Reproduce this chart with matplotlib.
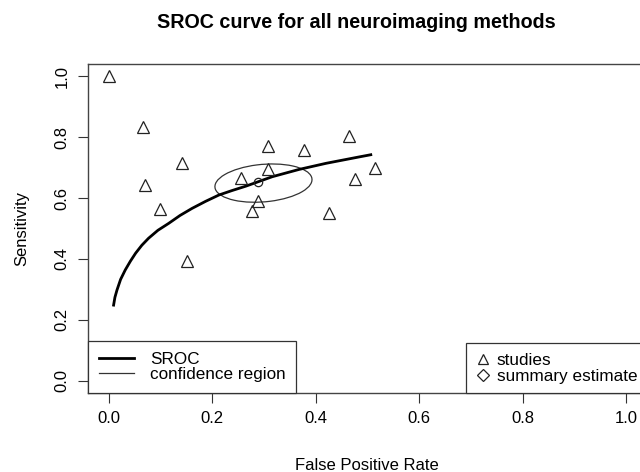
import matplotlib
matplotlib.use("Agg")
import matplotlib.pyplot as plt
from matplotlib.patches import Ellipse
from matplotlib.lines import Line2D

plt.rcParams['font.family'] = ['Liberation Sans', 'DejaVu Sans']

# study estimates (false positive rate, sensitivity)
fpr = [0.000, 0.066, 0.142, 0.070, 0.099, 0.307, 0.377, 0.465,
       0.307, 0.256, 0.288, 0.276, 0.425, 0.476, 0.514, 0.152]
sens = [1.000, 0.834, 0.714, 0.643, 0.564, 0.770, 0.757, 0.803,
        0.695, 0.666, 0.589, 0.557, 0.552, 0.662, 0.699, 0.393]

# SROC curve
sroc_x = [0.009, 0.012, 0.016, 0.023, 0.032, 0.042, 0.052, 0.064, 0.077,
          0.095, 0.116, 0.138, 0.161, 0.187, 0.213, 0.239, 0.265, 0.316,
          0.368, 0.420, 0.484, 0.509]
sroc_y = [0.244, 0.274, 0.298, 0.333, 0.364, 0.393, 0.419, 0.445, 0.468,
          0.494, 0.517, 0.543, 0.566, 0.589, 0.610, 0.625, 0.639, 0.670,
          0.694, 0.714, 0.735, 0.743]

# summary estimate and its confidence region
summ_x, summ_y = 0.289, 0.652
ell_center = (0.299, 0.649)
ell_w, ell_h, ell_angle = 0.19, 0.122, 12

ticks = [0.0, 0.2, 0.4, 0.6, 0.8, 1.0]
tick_labels = ["0.0", "0.2", "0.4", "0.6", "0.8", "1.0"]

fig = plt.figure(figsize=(6.4, 4.72), dpi=100)
ax = fig.add_axes([88/640, 79/472, 559/640, 329/472])

ax.plot(sroc_x, sroc_y, color="black", lw=2.0, solid_capstyle="butt",
        solid_joinstyle="round")
ax.add_patch(Ellipse(ell_center, ell_w, ell_h, angle=ell_angle,
                     fill=False, edgecolor="#333333", lw=0.9))
ax.plot(fpr, sens, linestyle="none", marker="^", markersize=8.5,
        markerfacecolor="none", markeredgecolor="#222222", markeredgewidth=0.9)
ax.plot([summ_x], [summ_y], linestyle="none", marker="o", markersize=6,
        markerfacecolor="none", markeredgecolor="#222222", markeredgewidth=0.9)

ax.set_xlim(-0.04, 1.04)
ax.set_ylim(-0.04, 1.04)
ax.set_xticks(ticks)
ax.set_xticklabels(tick_labels)
ax.set_yticks(ticks)
ax.set_yticklabels(tick_labels, rotation=90, va="center")
ax.tick_params(direction="out", length=7.2, width=0.8, labelsize=12,
               color="#333333", pad=6)
for s in ax.spines.values():
    s.set_color("#444444")
    s.set_linewidth(1.0)

h1 = [Line2D([], [], color="black", lw=2.0),
      Line2D([], [], color="#333333", lw=0.9)]
leg1 = ax.legend(h1, ["SROC", "confidence region"], loc="lower left",
                 borderaxespad=0, fancybox=False, edgecolor="#333333",
                 framealpha=1, fontsize=12.3, handlelength=2.1,
                 handletextpad=0.9, labelspacing=0.05, borderpad=0.62)
leg1.get_frame().set_linewidth(0.9)
ax.add_artist(leg1)

h2 = [Line2D([], [], linestyle="none", marker="^", markersize=7.5,
             markerfacecolor="none", markeredgecolor="#222222", markeredgewidth=0.9),
      Line2D([], [], linestyle="none", marker="D", markersize=6,
             markerfacecolor="none", markeredgecolor="#222222", markeredgewidth=0.9)]
leg2 = ax.legend(h2, ["studies", "summary estimate"], loc="lower right",
                 borderaxespad=0, fancybox=False, edgecolor="#333333",
                 framealpha=1, fontsize=12.3, handlelength=0.9,
                 handletextpad=0.35, labelspacing=0.05, borderpad=0.55)
leg2.get_frame().set_linewidth(0.9)

fig.text(356/640, 1 - 23/472, "SROC curve for all neuroimaging methods",
         ha="center", va="center", fontsize=14.2, fontweight="bold")
fig.text(367/640, 1 - 465/472, "False Positive Rate",
         ha="center", va="center", fontsize=12)
fig.text(22/640, 1 - 228/472, "Sensitivity", rotation=90,
         ha="center", va="center", fontsize=12)

fig.savefig("out.png", dpi=100)
